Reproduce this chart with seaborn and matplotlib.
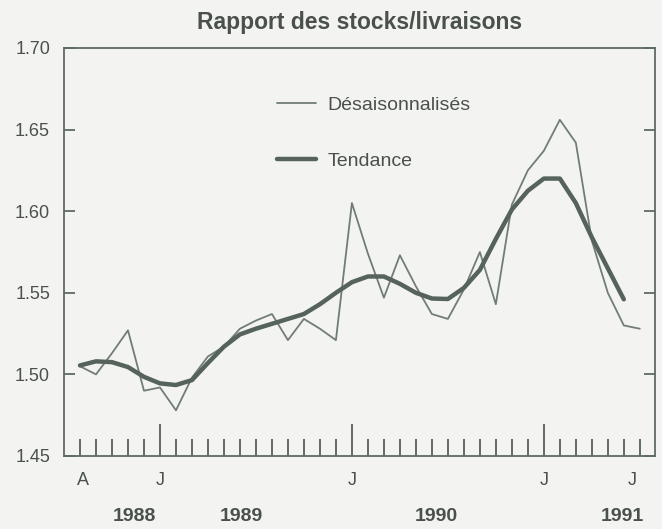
import numpy as np
import pandas as pd
import matplotlib.pyplot as plt
import seaborn as sns

# Monthly data, August 1988 to July 1991
months = pd.period_range('1988-08', '1991-07', freq='M')

desaisonnalises = [1.505, 1.500, 1.513, 1.527, 1.490, 1.492, 1.478, 1.498, 1.511, 1.517,
                   1.528, 1.533, 1.537, 1.521, 1.534, 1.528, 1.521, 1.605, 1.574, 1.547,
                   1.573, 1.554, 1.537, 1.534, 1.552, 1.575, 1.543, 1.604, 1.625, 1.637,
                   1.656, 1.642, 1.582, 1.550, 1.530, 1.528]

tendance = [1.5055, 1.508, 1.5075, 1.5045, 1.4985, 1.4945, 1.4935, 1.4965, 1.507, 1.517,
            1.5245, 1.528, 1.531, 1.534, 1.537, 1.543, 1.550, 1.5565, 1.560, 1.560,
            1.5555, 1.550, 1.5465, 1.5462, 1.553, 1.564, 1.583, 1.601, 1.6125, 1.620,
            1.620, 1.605, 1.584, 1.565, 1.546]

month_letters = ['A', 'J', 'J', 'J', 'J']
month_letter_pos = [0.2, 5, 17, 29, 34.5]
years = ['1988', '1989', '1990', '1991']
year_pos = [3.4, 10.1, 22.3, 33.9]

y_ticks = [1.45, 1.50, 1.55, 1.60, 1.65, 1.70]

df_d = pd.DataFrame({'k': np.arange(len(desaisonnalises)), 'v': desaisonnalises})
df_t = pd.DataFrame({'k': np.arange(len(tendance)), 'v': tendance})

sns.set_style('ticks')
plt.rcParams['font.family'] = ['Liberation Sans', 'DejaVu Sans']

bg = '#f3f4f2'
ink = '#56635a'
txt = '#4a504b'

fig = plt.figure(figsize=(6.62, 5.29), dpi=100, facecolor=bg)
ax = fig.add_axes([64 / 662, 1 - 456 / 529, 591 / 662, 408 / 529])
ax.set_facecolor(bg)

sns.lineplot(data=df_d, x='k', y='v', ax=ax, color='#717d74', linewidth=1.3,
             label='Désaisonnalisés')
sns.lineplot(data=df_t, x='k', y='v', ax=ax, color=ink, linewidth=3.2,
             label='Tendance', solid_joinstyle='round', solid_capstyle='round')

ax.set_xlim(-1.0, 35.95)
ax.set_ylim(1.45, 1.70)
ax.set_xlabel('')
ax.set_ylabel('')

for s in ax.spines.values():
    s.set_visible(True)
    s.set_color('#5f6a62')
    s.set_linewidth(1.3)

# y axis: ticks inside on both sides
ax.set_yticks(y_ticks)
ax.set_yticklabels([f'{t:.2f}' for t in y_ticks], fontsize=13, color=txt)
ax.tick_params(axis='y', direction='in', left=True, right=True, length=8,
               width=1.3, color='#5f6a62', pad=10)

# x axis: monthly ticks, long ones at January
jan = [k for k in range(len(months)) if months[k].month == 1]
others = [k for k in range(len(months)) if months[k].month != 1]
ax.set_xticks(jan)
ax.set_xticks(others, minor=True)
ax.set_xticklabels([])
ax.tick_params(axis='x', which='major', direction='in', length=23, width=1.4,
               color='#5f6a62')
ax.tick_params(axis='x', which='minor', direction='in', length=12, width=1.4,
               color='#5f6a62')

tr = ax.get_xaxis_transform()
for lab, p in zip(month_letters, month_letter_pos):
    ax.text(p, -0.06, lab, transform=tr, ha='center', va='center', fontsize=13, color=txt)
for lab, p in zip(years, year_pos):
    ax.text(p, -0.148, lab, transform=tr, ha='center', va='center', fontsize=14,
            fontweight='bold', color=txt)

ax.set_title('Rapport des stocks/livraisons', fontsize=16.5, fontweight='bold',
             color=txt, pad=14)

leg = ax.legend(loc='upper left', bbox_to_anchor=(0.36, 0.882), frameon=False,
                fontsize=14, handlelength=2.0, handletextpad=0.6, labelspacing=2.0,
                borderpad=0, borderaxespad=0)
for t in leg.get_texts():
    t.set_color(txt)

fig.savefig('out.png', dpi=100, facecolor=bg)
